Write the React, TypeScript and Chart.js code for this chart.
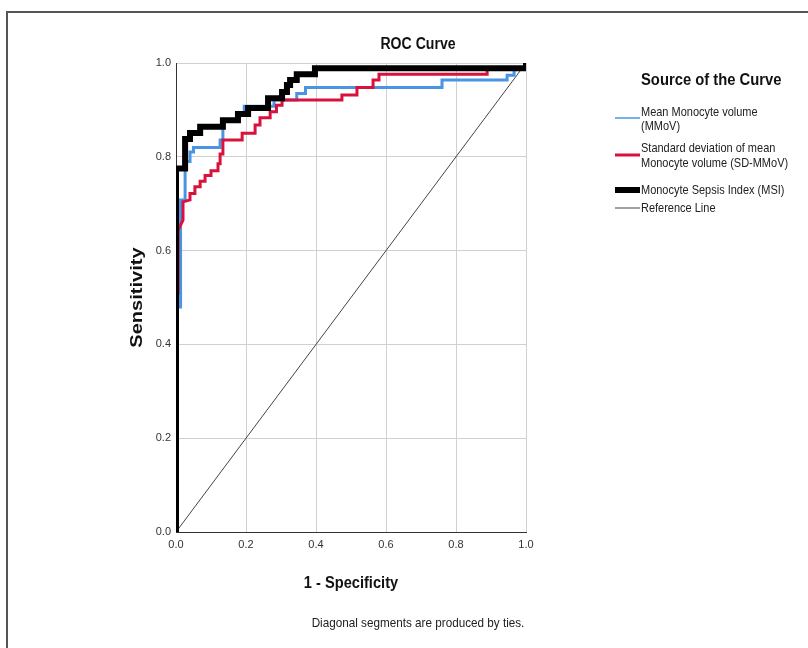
import React, { useEffect, useRef } from "react";
import { Chart, registerables } from "chart.js";

Chart.register(...registerables);

// Curve coordinates (1 - Specificity, Sensitivity)
const msiX = [0, 0, 0.026, 0.026, 0.04, 0.04, 0.069, 0.069, 0.134, 0.134, 0.177, 0.177, 0.206, 0.206, 0.263, 0.263, 0.303, 0.303, 0.317, 0.317, 0.326, 0.326, 0.345, 0.345, 0.397, 0.397, 1, 1];
const msiY = [0, 0.775, 0.775, 0.838, 0.838, 0.851, 0.851, 0.864, 0.864, 0.878, 0.878, 0.891, 0.891, 0.904, 0.904, 0.925, 0.925, 0.938, 0.938, 0.953, 0.953, 0.964, 0.964, 0.976, 0.976, 0.989, 0.989, 1];

const mmovX = [0, 0, 0.013, 0.013, 0.026, 0.026, 0.04, 0.04, 0.05, 0.05, 0.126, 0.126, 0.134, 0.134, 0.177, 0.177, 0.195, 0.195, 0.28, 0.28, 0.345, 0.345, 0.37, 0.37, 0.76, 0.76, 0.946, 0.946, 0.966, 0.966, 1, 1];
const mmovY = [0, 0.48, 0.48, 0.708, 0.708, 0.79, 0.79, 0.81, 0.81, 0.82, 0.82, 0.836, 0.836, 0.878, 0.878, 0.891, 0.891, 0.908, 0.908, 0.921, 0.921, 0.935, 0.935, 0.948, 0.948, 0.964, 0.964, 0.974, 0.974, 0.985, 0.989, 1];

const sdX = [0, 0, 0.006, 0.006, 0.02, 0.02, 0.04, 0.04, 0.054, 0.054, 0.069, 0.069, 0.083, 0.083, 0.1, 0.1, 0.12, 0.12, 0.126, 0.126, 0.134, 0.134, 0.189, 0.189, 0.226, 0.226, 0.24, 0.24, 0.269, 0.269, 0.287, 0.287, 0.303, 0.303, 0.474, 0.474, 0.517, 0.517, 0.563, 0.563, 0.58, 0.58, 0.889, 0.889, 1, 1];
const sdY = [0, 0.51, 0.51, 0.644, 0.665, 0.704, 0.708, 0.722, 0.722, 0.736, 0.736, 0.748, 0.748, 0.76, 0.76, 0.77, 0.77, 0.785, 0.785, 0.806, 0.806, 0.836, 0.836, 0.85, 0.85, 0.868, 0.868, 0.883, 0.883, 0.896, 0.896, 0.91, 0.91, 0.921, 0.921, 0.932, 0.932, 0.948, 0.948, 0.964, 0.964, 0.976, 0.976, 0.989, 0.989, 1];

const refX = [0, 1];
const refY = [0, 1];

const axisTicks = [0, 0.2, 0.4, 0.6, 0.8, 1.0];

const chartTitle = "ROC Curve";
const legendTitle = "Source of the Curve";
const legendLabels = [
  ["Mean Monocyte volume", "(MMoV)"],
  ["Standard deviation of mean", "Monocyte volume (SD-MMoV)"],
  ["Monocyte Sepsis Index (MSI)"],
  ["Reference Line"],
];
const xTitle = "1 - Specificity";
const yTitle = "Sensitivity";
const footnote = "Diagonal segments are produced by ties.";

const BLUE = "#4a94e4";
const RED = "#d8123c";
const BLACK = "#000000";
const GREY = "#444444";

const FONT = "'Liberation Sans', Arial, sans-serif";

const pts = (xs: number[], ys: number[]) => xs.map((x, i) => ({ x, y: ys[i] }));

// draw text with horizontal compression factor sx
function txt(ctx: any, s: string, x: number, y: number, font: string, sx: number, align: string) {
  ctx.save();
  ctx.font = font;
  ctx.textBaseline = "middle";
  ctx.textAlign = align;
  ctx.translate(x, y);
  ctx.scale(sx, 1);
  ctx.fillText(s, 0, 0);
  ctx.restore();
}

const decorPlugin = {
  id: "decor",
  beforeDraw(chart: any) {
    const ctx = chart.ctx;
    ctx.save();
    ctx.fillStyle = "#ffffff";
    ctx.fillRect(0, 0, chart.width, chart.height);
    ctx.strokeStyle = "#555555";
    ctx.lineWidth = 2;
    ctx.beginPath();
    ctx.moveTo(7, 648);
    ctx.lineTo(7, 12);
    ctx.lineTo(808, 12);
    ctx.stroke();
    ctx.restore();
  },
  afterDraw(chart: any) {
    const ctx = chart.ctx;
    const ca = chart.chartArea;
    ctx.save();
    ctx.fillStyle = "#111111";
    txt(ctx, chartTitle, 418, 45, `bold 16px ${FONT}`, 0.88, "center");
    txt(ctx, xTitle, (ca.left + ca.right) / 2, 583, `bold 17px ${FONT}`, 0.86, "center");
    ctx.save();
    ctx.translate(137, (ca.top + ca.bottom) / 2);
    ctx.rotate(-Math.PI / 2);
    txt(ctx, yTitle, 0, 0, `bold 17px ${FONT}`, 1.18, "center");
    ctx.restore();
    ctx.fillStyle = "#222222";
    txt(ctx, footnote, 418, 623, `13px ${FONT}`, 0.9, "center");

    ctx.fillStyle = "#111111";
    txt(ctx, legendTitle, 641, 80, `bold 17px ${FONT}`, 0.87, "left");
    ctx.fillStyle = "#222222";
    const items = [
      { color: "#7ab0ea", w: 2, y: 118, lines: [112, 126] },
      { color: RED, w: 3, y: 155, lines: [148, 163] },
      { color: BLACK, w: 6, y: 190, lines: [190] },
      { color: GREY, w: 1, y: 208, lines: [208] },
    ];
    items.forEach((it, i) => {
      ctx.strokeStyle = it.color;
      ctx.lineWidth = it.w;
      ctx.lineCap = "butt";
      ctx.beginPath();
      ctx.moveTo(615, it.y);
      ctx.lineTo(640, it.y);
      ctx.stroke();
      legendLabels[i].forEach((t, j) => {
        txt(ctx, t, 641, it.lines[j], `13px ${FONT}`, 0.845, "left");
      });
    });
    ctx.restore();
  },
};

export default function App() {
  const ref = useRef<HTMLCanvasElement | null>(null);
  useEffect(() => {
    if (!ref.current) return;
    const chart = new Chart(ref.current, {
      type: "scatter",
      data: {
        datasets: [
          {
            label: "Monocyte Sepsis Index (MSI)",
            data: pts(msiX, msiY),
            borderColor: BLACK,
            backgroundColor: BLACK,
            borderWidth: 6,
            showLine: true,
            pointRadius: 0,
            order: 0,
          },
          {
            label: "Standard deviation of mean Monocyte volume (SD-MMoV)",
            data: pts(sdX, sdY),
            borderColor: RED,
            backgroundColor: RED,
            borderWidth: 3,
            showLine: true,
            pointRadius: 0,
            order: 1,
          },
          {
            label: "Mean Monocyte volume (MMoV)",
            data: pts(mmovX, mmovY),
            borderColor: BLUE,
            backgroundColor: BLUE,
            borderWidth: 3,
            showLine: true,
            pointRadius: 0,
            order: 2,
          },
          {
            label: "Reference Line",
            data: pts(refX, refY),
            borderColor: GREY,
            backgroundColor: GREY,
            borderWidth: 1,
            showLine: true,
            pointRadius: 0,
            order: 3,
          },
        ],
      },
      options: {
        responsive: false,
        animation: false,
        layout: { padding: { left: 0, top: 63, right: 282, bottom: 86 } },
        plugins: { legend: { display: false }, tooltip: { enabled: false }, title: { display: false } },
        elements: { line: { borderJoinStyle: "miter", borderCapStyle: "butt", tension: 0 } },
        scales: {
          x: {
            type: "linear",
            min: 0,
            max: 1,
            afterFit: (s: any) => { s.height = 30; },
            afterBuildTicks: (s: any) => { s.ticks = axisTicks.map((v) => ({ value: v })); },
            grid: { color: "#d0d0d0", lineWidth: 1, drawTicks: false },
            border: { color: "#333333", width: 1 },
            ticks: {
              padding: 6,
              color: "#333333",
              font: { family: FONT, size: 11 },
              callback: (v: any) => Number(v).toFixed(1),
            },
          },
          y: {
            type: "linear",
            min: 0,
            max: 1,
            afterFit: (s: any) => { s.width = 176; },
            afterBuildTicks: (s: any) => { s.ticks = axisTicks.map((v) => ({ value: v })); },
            grid: { color: "#d0d0d0", lineWidth: 1, drawTicks: false },
            border: { color: "#333333", width: 1 },
            ticks: {
              padding: 5,
              color: "#333333",
              font: { family: FONT, size: 11 },
              callback: (v: any) => Number(v).toFixed(1),
            },
          },
        },
      },
      plugins: [decorPlugin],
    });
    return () => chart.destroy();
  }, []);
  return (
    <div style={{ position: "absolute", left: 0, top: 0, width: 808, height: 648, background: "#fff" }}>
      <canvas ref={ref} width={808} height={648} style={{ width: 808, height: 648, display: "block" }} />
    </div>
  );
}
